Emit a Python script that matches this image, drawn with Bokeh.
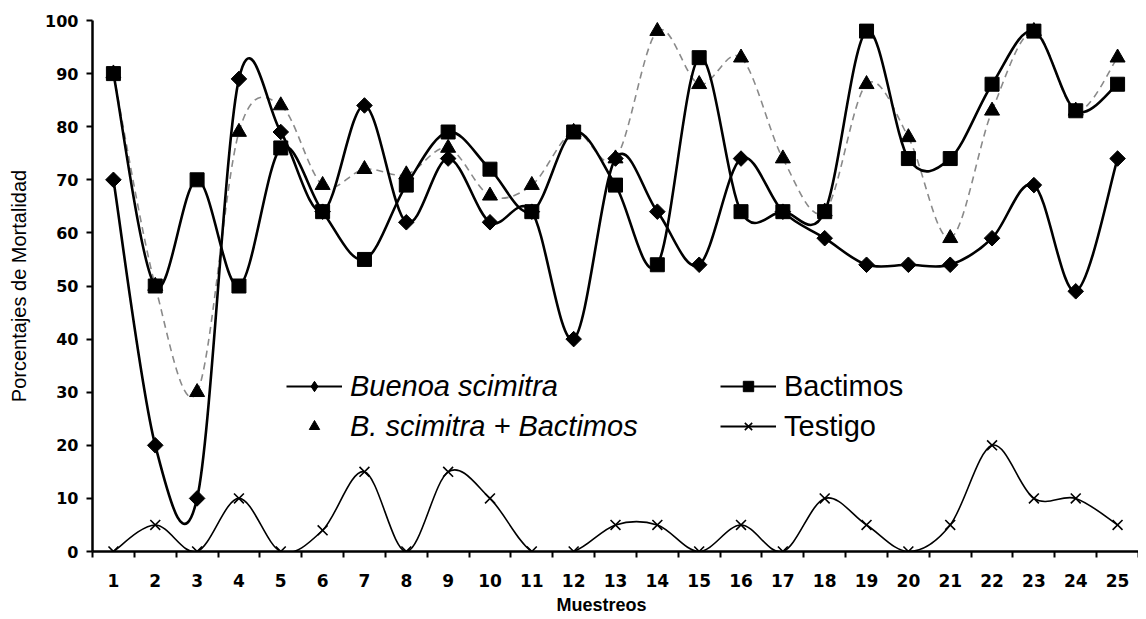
import numpy as np
from bokeh.plotting import figure
from bokeh.models import FixedTicker, Legend, LegendItem, Title, ColumnDataSource
from bokeh.embed import file_html
from bokeh.resources import INLINE

# ---- data ----
muestreos = list(range(1, 26))
buenoa   = [70, 20, 10, 89, 79, 64, 84, 62, 74, 62, 64, 40, 74, 64, 54, 74, 64, 59, 54, 54, 54, 59, 69, 49, 74]
bactimos = [90, 50, 70, 50, 76, 64, 55, 69, 79, 72, 64, 79, 69, 54, 93, 64, 64, 64, 98, 74, 74, 88, 98, 83, 88]
mezcla   = [90, 50, 30, 79, 84, 69, 72, 71, 76, 67, 69, 79, 74, 98, 88, 93, 74, 64, 88, 78, 59, 83, 98, 83, 93]
testigo  = [0, 5, 0, 10, 0, 4, 15, 0, 15, 10, 0, 0, 5, 5, 0, 5, 0, 10, 5, 0, 5, 20, 10, 10, 5]
y_ticks = list(range(0, 101, 10))

TICK_FONT = "DejaVu Sans"
TEXT_FONT = "Liberation Sans"


def smooth_source(xs, ys):
    """Bezier segments (Excel-like smoothed line) through the data points."""
    x = np.asarray(xs, float)
    y = np.asarray(ys, float)
    n = len(x)
    xp = np.concatenate([[x[0]], x, [x[-1]]])
    yp = np.concatenate([[y[0]], y, [y[-1]]])
    return ColumnDataSource(dict(
        x0=x[:-1], y0=y[:-1], x1=x[1:], y1=y[1:],
        cx0=x[:-1] + (xp[2:n + 1] - xp[0:n - 1]) / 6.0,
        cy0=y[:-1] + (yp[2:n + 1] - yp[0:n - 1]) / 6.0,
        cx1=x[1:] - (xp[3:n + 2] - xp[1:n]) / 6.0,
        cy1=y[1:] - (yp[3:n + 2] - yp[1:n]) / 6.0,
    ))


p = figure(width=1138, height=617, x_range=(0.5, 25.5), y_range=(0, 100),
           output_backend="svg", toolbar_location=None,
           min_border_left=92, min_border_right=0, min_border_top=20, min_border_bottom=6)
p.outline_line_color = None
p.xgrid.visible = False
p.ygrid.visible = False
p.background_fill_color = "white"
p.border_fill_color = "white"

# ---- series ----
p.bezier(source=smooth_source(muestreos, mezcla), x0="x0", y0="y0", x1="x1", y1="y1",
         cx0="cx0", cy0="cy0", cx1="cx1", cy1="cy1",
         line_color="#8a8a8a", line_width=1.6, line_dash="7 5")
tri = p.scatter(muestreos, mezcla, marker="triangle", size=15, fill_color="black", line_color="black")

p.bezier(source=smooth_source(muestreos, testigo), x0="x0", y0="y0", x1="x1", y1="y1",
         cx0="cx0", cy0="cy0", cx1="cx1", cy1="cy1", line_color="black", line_width=1.6)
xs = p.scatter(muestreos, testigo, marker="x", size=14, line_color="black", line_width=1.6)

p.bezier(source=smooth_source(muestreos, bactimos), x0="x0", y0="y0", x1="x1", y1="y1",
         cx0="cx0", cy0="cy0", cx1="cx1", cy1="cy1", line_color="black", line_width=2.6)
sq = p.scatter(muestreos, bactimos, marker="square", size=14, fill_color="black", line_color="black")

p.bezier(source=smooth_source(muestreos, buenoa), x0="x0", y0="y0", x1="x1", y1="y1",
         cx0="cx0", cy0="cy0", cx1="cx1", cy1="cy1", line_color="black", line_width=2.6)
p.scatter(muestreos, buenoa, marker="square", angle=np.pi / 4, size=11,
          fill_color="black", line_color="black")

# legend samples (no data drawn in the plot)
nan = [float("nan")]
ln_b = p.line(nan, nan, line_color="black", line_width=2)
ln_t = p.line(nan, nan, line_color="black", line_width=2)
dm_leg = p.scatter(nan, nan, marker="diamond", size=14, fill_color="black", line_color="black")

# ---- axes ----
xa = p.xaxis[0]
xa.ticker = FixedTicker(ticks=muestreos, minor_ticks=[i + 0.5 for i in range(0, 26)])
xa.major_tick_out = 0
xa.major_tick_in = 0
xa.minor_tick_out = 6
xa.minor_tick_in = 0
xa.minor_tick_line_width = 2
xa.axis_line_width = 2.5
xa.major_label_standoff = 16
xa.major_label_text_font = TICK_FONT
xa.major_label_text_font_style = "bold"
xa.major_label_text_font_size = "17px"
xa.major_label_text_color = "black"

ya = p.yaxis[0]
ya.ticker = FixedTicker(ticks=y_ticks)
ya.minor_tick_out = 0
ya.minor_tick_in = 0
ya.major_tick_out = 6
ya.major_tick_in = 0
ya.major_tick_line_width = 2
ya.axis_line_width = 2.5
ya.major_label_standoff = 8
ya.major_label_text_font = TICK_FONT
ya.major_label_text_font_style = "bold"
ya.major_label_text_font_size = "16px"
ya.major_label_text_color = "black"
ya.axis_label = "Porcentajes de Mortalidad"
ya.axis_label_text_font = TEXT_FONT
ya.axis_label_text_font_style = "normal"
ya.axis_label_text_font_size = "20px"
ya.axis_label_text_color = "black"
ya.axis_label_standoff = 12

xt = Title(text="Muestreos", align="left", offset=464, standoff=6,
           text_font=TEXT_FONT, text_font_style="bold", text_font_size="18px", text_color="black")
p.add_layout(xt, "below")

# ---- legends ----
common = dict(background_fill_alpha=0, border_line_alpha=0, padding=0, margin=0, spacing=0,
              label_height=40, glyph_height=26, glyph_width=56, label_standoff=8,
              label_text_font=TEXT_FONT, label_text_font_size="29px", label_text_color="black")
leg1 = Legend(items=[LegendItem(label="Buenoa scimitra", renderers=[ln_b, dm_leg]),
                     LegendItem(label="B. scimitra + Bactimos", renderers=[tri])],
              location=(194, 105), label_text_font_style="italic", **common)
leg2 = Legend(items=[LegendItem(label="Bactimos", renderers=[ln_t, sq]),
                     LegendItem(label="Testigo", renderers=[ln_t, xs])],
              location=(628, 105), label_text_font_style="normal", **common)
p.add_layout(leg1)
p.add_layout(leg2)

open("out.html", "w").write(file_html(p, INLINE))
